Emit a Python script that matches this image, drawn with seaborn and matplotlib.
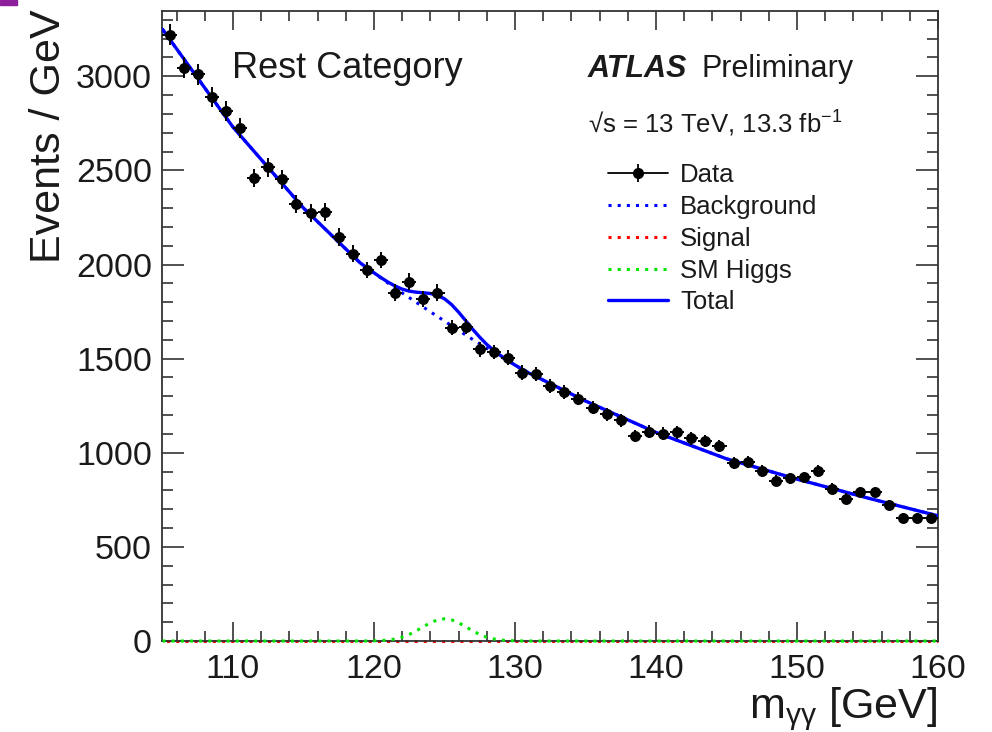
import numpy as np
import pandas as pd
import matplotlib
matplotlib.use("Agg")
import matplotlib.pyplot as plt
import seaborn as sns
from matplotlib.lines import Line2D
from matplotlib.legend_handler import HandlerTuple
from matplotlib.patches import Rectangle
from matplotlib.ticker import MultipleLocator

# --- diphoton invariant mass spectrum, 1 GeV bins (bin centres) ---
bin_centres = np.arange(105.5, 160.0, 1.0)
events = [
    3222, 3045, 3010, 2891, 2815, 2727, 2460, 2516, 2452, 2322,
    2272, 2280, 2146, 2058, 1971, 2024, 1851, 1909, 1815, 1851,
    1665, 1670, 1550, 1536, 1506, 1426, 1417, 1355, 1323, 1288,
    1240, 1205, 1173, 1090, 1113, 1102, 1108, 1076, 1063, 1037,
    945, 952, 904, 851, 865, 869, 904, 810, 757, 792,
    792, 722, 653, 653, 653,
]

# --- fitted model components sampled in m_yy ---
model_mass = [
    105, 110, 115, 119, 119.5, 120, 120.5, 121, 121.5, 122,
    122.5, 123, 123.5, 124, 124.5, 125, 125.5, 126, 126.5, 127,
    127.5, 128, 128.5, 129, 129.5, 130, 130.5, 131, 135, 140,
    145, 150, 155, 160,
]
background = [
    3250, 2730, 2300, 2010, 1982, 1955, 1928, 1901, 1875, 1849,
    1824, 1799, 1774, 1749, 1724, 1700, 1675, 1650, 1626, 1602,
    1579, 1555, 1533, 1510, 1488, 1465, 1444, 1423, 1275, 1108,
    968, 860, 760, 665,
]
sm_higgs = [
    0, 0, 0, 0.1, 0.3, 0.9, 2.3, 5.2, 10.8, 20.3,
    34.8, 54.0, 76.0, 97.1, 112.3, 118.0, 112.3, 97.1, 76.0, 54.0,
    34.8, 20.3, 10.8, 5.2, 2.3, 0.9, 0.3, 0.1, 0, 0,
    0, 0, 0, 0,
]
signal = [0.0] * 34

xticks_major = [110, 120, 130, 140, 150, 160]

model = pd.DataFrame({
    "mass": model_mass,
    "background": background,
    "signal": signal,
    "higgs": sm_higgs,
})
model["total"] = model["background"] + model["signal"] + model["higgs"]
data = pd.DataFrame({"mass": bin_centres, "events": events})

sns.set_theme(style="ticks")
plt.rcParams["font.family"] = ["Liberation Sans", "DejaVu Sans"]
plt.rcParams["mathtext.fontset"] = "custom"
plt.rcParams["mathtext.rm"] = "Liberation Sans"
plt.rcParams["mathtext.it"] = "Liberation Sans:italic"
plt.rcParams["mathtext.bf"] = "Liberation Sans:bold"

TXT = "#1a1a1a"
FRAME = "#333333"
BLUE, RED, GREEN = "#0000ff", "#ff0000", "#00e600"
DOTS = (0, (1.0, 2.0))
DOTS_SHIFTED = (1.5, (1.0, 2.0))

fig = plt.figure(figsize=(9.92, 7.32), dpi=100)
ax = fig.add_axes([0.1638, 0.1243, 0.7818, 0.8607])

sns.lineplot(data=model, x="mass", y="signal", ax=ax, color=RED, lw=2.2,
             linestyle=DOTS_SHIFTED, estimator=None, zorder=2, clip_on=False)
sns.lineplot(data=model, x="mass", y="higgs", ax=ax, color=GREEN, lw=2.2,
             linestyle=DOTS, estimator=None, zorder=3, clip_on=False)
sns.lineplot(data=model, x="mass", y="background", ax=ax, color=BLUE, lw=2.2,
             linestyle=DOTS, estimator=None, zorder=3)
sns.lineplot(data=model, x="mass", y="total", ax=ax, color=BLUE, lw=2.4,
             estimator=None, zorder=4)

ax.errorbar(data["mass"], data["events"], xerr=0.5, yerr=np.sqrt(data["events"]),
            fmt="none", ecolor="black", elinewidth=1.4, capsize=0, zorder=5)
sns.scatterplot(data=data, x="mass", y="events", ax=ax, color="black", s=62,
                edgecolor="black", linewidth=0, zorder=6, legend=False)

ax.set_xlim(105, 160)
ax.set_ylim(0, 3347)
ax.set_xlabel("")
ax.set_ylabel("")
ax.set_xticks(xticks_major)
ax.xaxis.set_minor_locator(MultipleLocator(2))
ax.yaxis.set_major_locator(MultipleLocator(500))
ax.yaxis.set_minor_locator(MultipleLocator(100))

for sp in ax.spines.values():
    sp.set_visible(True)
    sp.set_color(FRAME)
    sp.set_linewidth(1.3)

ax.tick_params(which="both", direction="in", top=True, right=True,
               color=FRAME, width=1.2, labelcolor=TXT)
ax.tick_params(axis="x", which="major", length=13.5, pad=9, labelsize=24.5)
ax.tick_params(axis="x", which="minor", length=7)
ax.tick_params(axis="y", which="major", length=16, pad=7.5, labelsize=24.5)
ax.tick_params(axis="y", which="minor", length=8)

# axis titles
fig.text(49 / 992, 1 - 9 / 732, "Events / GeV", rotation=90, ha="center",
         va="top", fontsize=31, color=TXT)
fig.text(937 / 992, 1 - 718 / 732, r"m$_{\mathregular{γγ}}$ [GeV]", ha="right",
         va="baseline", fontsize=31, color=TXT)

# annotations
fig.text(232 / 992, 1 - 78 / 732, "Rest Category", fontsize=26, va="baseline",
         color=TXT)
fig.text(588 / 992, 1 - 77 / 732, "ATLAS", fontsize=22, weight="bold",
         style="italic", va="baseline", color=TXT)
fig.text(701 / 992, 1 - 77 / 732, "Preliminary", fontsize=22, va="baseline",
         color=TXT)
fig.text(588 / 992, 1 - 133 / 732, "√s = 13 TeV, 13.3 fb$^{\\mathregular{-1}}$",
         fontsize=18.5, va="baseline", color=TXT)

# legend
h_data = (
    Line2D([], [], color="black", lw=1.3),
    Line2D([], [], color="black", marker="|", ms=13, mew=1.3, ls="none"),
    Line2D([], [], color="black", marker="o", ms=7, ls="none"),
)
h_bkg = Line2D([], [], color=BLUE, lw=2.2, ls=DOTS)
h_sig = Line2D([], [], color=RED, lw=2.2, ls=DOTS)
h_higgs = Line2D([], [], color=GREEN, lw=2.2, ls=DOTS)
h_tot = Line2D([], [], color=BLUE, lw=2.4)
leg = ax.legend(
    [h_data, h_bkg, h_sig, h_higgs, h_tot],
    ["Data", "Background", "Signal", "SM Higgs", "Total"],
    handler_map={tuple: HandlerTuple(ndivide=1, pad=0)},
    loc="upper left", bbox_to_anchor=(0.5745, 0.758), frameon=False,
    fontsize=18.5, handlelength=2.33, handletextpad=0.47, labelspacing=0.3,
    borderpad=0, borderaxespad=0,
)
for t in leg.get_texts():
    t.set_color(TXT)

# small corner marker
fig.patches.append(Rectangle((0, 1 - 5 / 732), 17 / 992, 5 / 732,
                             transform=fig.transFigure, color="#8e1f9c",
                             zorder=10))

fig.savefig("out.png", dpi=100, facecolor="white")
